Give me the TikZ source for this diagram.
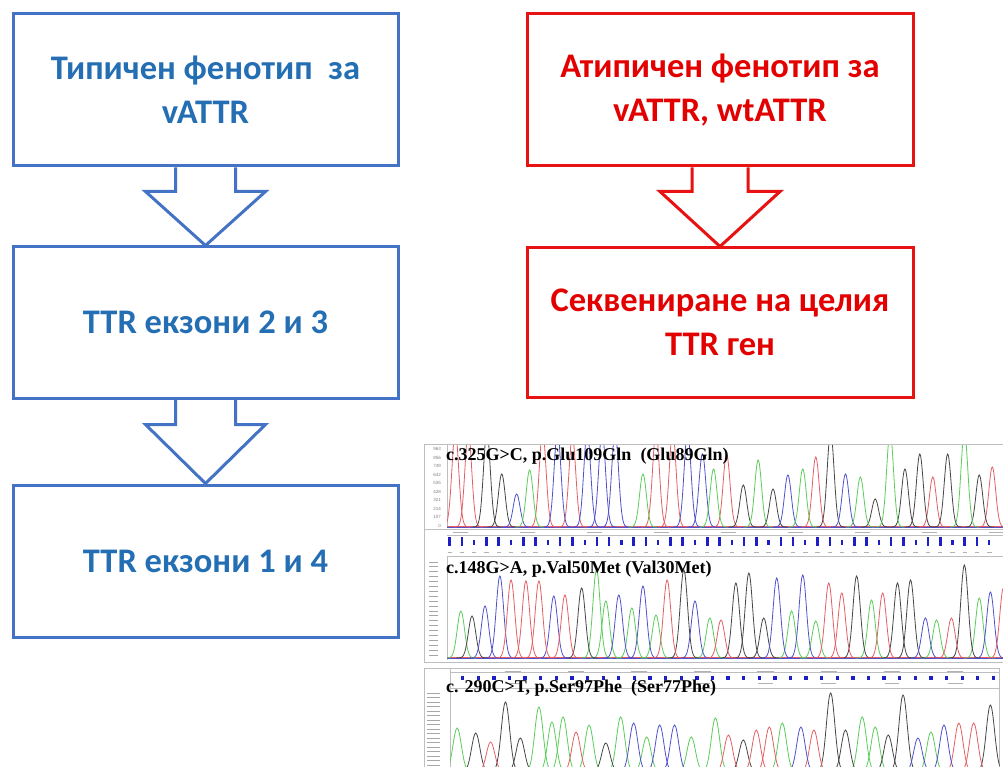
\documentclass[tikz,border=0pt]{standalone}
\usepackage{fontspec}
\newfontfamily\boxfont{Carlito}
\newfontfamily\seqfont{Liberation Serif}
\newfontfamily\axfont{Liberation Sans}
\usetikzlibrary{calc}

\definecolor{flowblue}{RGB}{68,114,196}
\definecolor{flowbluetext}{RGB}{36,110,180}
\definecolor{flowred}{RGB}{232,18,18}
\definecolor{flowredtext}{RGB}{226,0,0}
\definecolor{trRed}{RGB}{228,95,100}
\definecolor{trGreen}{RGB}{90,205,90}
\definecolor{trBlue}{RGB}{80,80,205}
\definecolor{trBlack}{RGB}{70,70,70}
\definecolor{markblue}{RGB}{30,30,200}
\definecolor{frame}{RGB}{190,190,190}

\tikzset{
  flowbox/.style={line width=3pt, minimum width=385pt, inner sep=0pt,
    align=center, font=\boxfont\bfseries\fontsize{34.5}{44}\selectfont},
  bluebox/.style={flowbox, draw=flowblue, text=flowbluetext},
  redbox/.style={flowbox, draw=flowred, text=flowredtext},
  blockarrow/.style={line width=3pt, line join=miter},
  trace/.style={line width=0.8pt},
  panelframe/.style={draw=frame, line width=0.8pt},
  seqlabel/.style={anchor=base west, inner sep=0pt,
    font=\seqfont\bfseries\fontsize{18}{20}\selectfont},
  axlabel/.style={anchor=east, inner sep=0pt, text=gray,
    font=\axfont\fontsize{4.5}{5}\selectfont}
}

% one coloured trace made of Gaussian peaks: colour, baseline, width, list centre/height
\newcommand\chrompeaks[4]{%
  \foreach \pc/\ph in {#4}{%
    \pgfmathsetmacro\pa{\pc-3*#3}%
    \pgfmathsetmacro\pb{\pc+3*#3}%
    \draw[trace,#1] plot[domain=\pa:\pb,samples=31,smooth]
      (\x,{#2-\ph*exp(-((\x-\pc)/#3)^2)});
  }%
}

\begin{document}
\begin{tikzpicture}[x=1pt,y=-1pt]
\fill[white] (0,0) rectangle (1003,767);
\useasboundingbox (0,0) rectangle (1003,767);

% ---------- flow chart, left column ----------
\node[bluebox, minimum height=152pt] (b1) at (205.5,90)
  {Типичен фенотип\ \ за\\vATTR};
\node[bluebox, minimum height=151pt] (b2) at (205.5,322.5)
  {TTR екзони 2 и 3};
\node[bluebox, minimum height=152pt] (b3) at (205.5,561)
  {TTR екзони 1 и 4};

\draw[blockarrow, draw=flowblue]
  ($(b1.south)+(-30,0)$) -- ++(0,24) -- ++(-30,0) -- (b2.north)
  -- ($(b1.south)+(60,24)$) -- ++(-30,0) -- ++(0,-24);
\draw[blockarrow, draw=flowblue]
  ($(b2.south)+(-30,0)$) -- ++(0,25) -- ++(-30,0) -- (b3.north)
  -- ($(b2.south)+(60,25)$) -- ++(-30,0) -- ++(0,-25);

% ---------- flow chart, right column ----------
\node[redbox, minimum height=152pt, minimum width=386pt] (r1) at (720,90)
  {Атипичен фенотип за\\vATTR, wtATTR};
\node[redbox, minimum height=149pt, minimum width=386pt] (r2) at (720,322.5)
  {Секвениране на целия\\TTR ген};

\draw[blockarrow, draw=flowred]
  ($(r1.south)+(-28,0)$) -- ++(0,24) -- ++(-32,0) -- (r2.north)
  -- ($(r1.south)+(60,24)$) -- ++(-32,0) -- ++(0,-24);

% ---------- sequencing traces: frames ----------
\draw[panelframe] (1004,444) -- (424,444) -- (424,662) -- (1004,662);
\draw[panelframe] (447,444) -- (447,528);
\draw[panelframe] (424,529) -- (1004,529);
\draw[panelframe] (447,535) -- (1004,535);
\draw[panelframe] (447,556) -- (1004,556);
\draw[panelframe] (447,556) -- (447,660);
\draw[panelframe] (999,767) -- (999,668) -- (424,668) -- (424,767);
\draw[panelframe] (450,668) -- (450,767);
\draw[panelframe] (450,672) -- (999,672);
\draw[panelframe] (450,688) -- (999,688);

% y axis numbers of the first trace
\foreach \v [count=\k from 0] in {963,856,749,642,535,428,321,214,107,0}
  \node[axlabel] (ax\k) at (441,{449+8.5*\k}) {\v};

% tick marks standing for the small axis numbers of the other traces
\foreach \k in {0,...,19}
  \draw[gray!70, line width=1pt] (429,{562+4.9*\k}) -- (438,{562+4.9*\k});
\foreach \k in {0,...,16}
  \draw[gray!70, line width=1pt] (427,{693+4.5*\k}) -- (440,{693+4.5*\k});

\begin{scope}[shift={(420,0)}, x=0.3716pt]
  % strip of base calls under the first trace
  \foreach \m [count=\k] in {80,113,...,1560}{
    \pgfmathparse{mod(\k,3)==0 ? 1 : 0}
    \ifnum\pgfmathresult=1
      \fill[markblue] (\m-3,540) rectangle (\m+3,545);
    \else
      \fill[markblue] (\m-3.5,537) rectangle (\m+3.5,546);
    \fi
    \draw[gray!60, line width=0.5pt] (\m-6,552) -- (\m+6,552);
  }
  \foreach \m in {110,290,470,650,830,1010,1190,1370,1550}
    \draw[gray!60, line width=0.5pt] (\m-20,532) -- (\m+20,532);

  % strip of base calls above the third trace
  \foreach \m in {115,157,...,1545}
    \fill[markblue] (\m-4.5,675.5) rectangle (\m+4.5,679.5);
  \foreach \m in {250,420,590,760,930,1100,1270,1440}{
    \draw[gray!60, line width=0.5pt] (\m-22,671) -- (\m+22,671);
    \draw[gray!60, line width=0.5pt] (\m-20,683) -- (\m+20,683);
  }

  % first trace
  \begin{scope}
    \clip (73,445) rectangle (1575,528.5);
    \draw[trace,trGreen] (73,527.3) -- (1575,527.3);
    \draw[trace,trRed] (73,526.6) -- (1575,526.6);
    \draw[trace,trBlue] (73,527.8) -- (1575,527.8);
    \chrompeaks{trRed}{527}{13}{95/95,130/95,330/95,410/90,635/95,680/95,825/73,1065/70,1380/50,1540/60}
    \chrompeaks{trBlack}{527}{13}{180/95,220/53,870/42,950/38,1105/95,1225/28,1305/58,1345/73,1420/73,1505/52}
    \chrompeaks{trBlue}{527}{13}{260/33,370/95,450/95,490/95,525/95,720/95,760/73,990/52,1145/53}
    \chrompeaks{trGreen}{527}{13}{295/57,600/53,790/58,910/67,1030/58,1185/50,1265/95,1465/95}
  \end{scope}

  % second trace
  \begin{scope}
    \clip (73,557) rectangle (1575,660);
    \draw[trace,trGreen] (73,658.3) -- (1575,658.3);
    \draw[trace,trRed] (73,657.6) -- (1575,657.6);
    \draw[trace,trBlue] (73,658.8) -- (1575,658.8);
    \chrompeaks{trGreen}{658}{14}{110/47,475/88,500/57,570/50,635/43,780/40,1000/47,1065/37,1215/58,1390/38,1505/60}
    \chrompeaks{trBlack}{658}{14}{140/42,435/70,710/88,850/75,885/85,925/40,1175/82,1285/75,1320/78,1465/93}
    \chrompeaks{trBlue}{658}{14}{175/52,215/82,360/62,535/63,600/72,740/57,960/80,1030/83,1360/40,1535/66}
    \chrompeaks{trRed}{658}{14}{245/78,285/77,320/77,390/63,665/78,810/38,1100/75,1135/65,1245/65,1430/40,1570/70}
  \end{scope}

  % third trace
  \begin{scope}
    \clip (81,689) rectangle (1560,767);
    \chrompeaks{trGreen}{772}{16}{100/44,320/65,355/50,385/55,455/47,540/55,610/35,730/35,795/54,975/49,1190/55,1225/45,1375/40}
    \chrompeaks{trBlack}{772}{16}{150/39,230/70,270/34,500/29,870/32,1105/79,1145/42,1260/37,1300/77,1535/67}
    \chrompeaks{trRed}{772}{16}{190/30,420/40,830/37,905/42,940/45,1060/42,1450/49,1490/49}
    \chrompeaks{trBlue}{772}{16}{575/49,645/47,685/47,1025/45,1340/34,1410/47}
  \end{scope}
\end{scope}

% mutation labels
\node[seqlabel] (m1) at (446,460) {c.325G>C, p.Glu109Gln\ \ (Glu89Gln)};
\node[seqlabel] (m2) at (446,573) {c.148G>A, p.Val50Met (Val30Met)};
\node[seqlabel] (m3) at (446,692) {c. 290C>T, p.Ser97Phe\ \ (Ser77Phe)};
\end{tikzpicture}
\end{document}
